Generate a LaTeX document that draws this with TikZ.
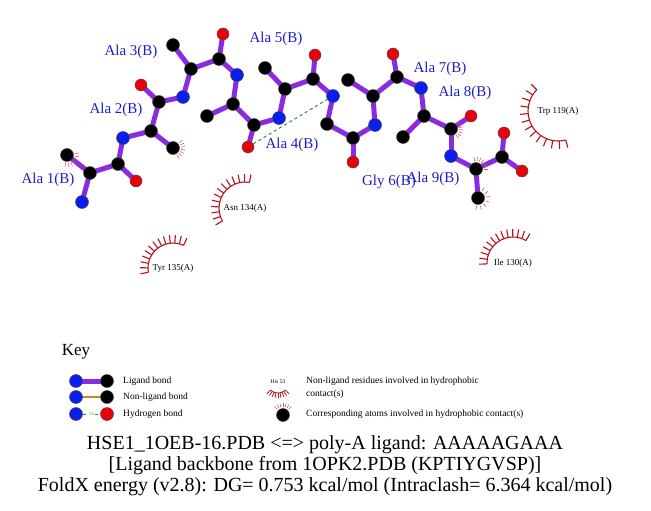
\documentclass[tikz,border=0pt]{standalone}
\usepackage{fontspec}
\setmainfont{Liberation Serif}
\usetikzlibrary{backgrounds}
\definecolor{ligbond}{HTML}{8A2BE2}
\definecolor{nblue}{HTML}{0A1EF0}
\definecolor{ored}{HTML}{E8000A}
\definecolor{labblue}{HTML}{1E1EC8}
\definecolor{hydred}{HTML}{B4141E}
\definecolor{nlbond}{HTML}{CC8A1E}
\definecolor{hgreen}{HTML}{2E8B22}

\begin{document}
\begin{tikzpicture}[x=1pt, y=1pt,
  atom/.style={circle, draw=black!70, line width=0.5pt, inner sep=0pt, minimum size=13pt},
  catom/.style={atom, fill=black},
  natom/.style={atom, fill=nblue},
  oatom/.style={atom, fill=ored, minimum size=12pt},
  bond/.style={ligbond, line width=5pt},
  nlig/.style={nlbond, line width=2.5pt},
  hbond/.style={hgreen, dashed, line width=1pt},
  res/.style={text=labblue, inner sep=0pt, font=\fontsize{15}{15}\selectfont},
  hyd/.style={hydred, line width=1.1pt},
  hydmark/.style={hydred!70, line width=0.6pt},
  contact/.style={inner sep=0pt, font=\fontsize{9}{9}\selectfont},
  keytext/.style={anchor=west, inner sep=0pt, align=left, font=\fontsize{9.5}{13}\selectfont},
  title/.style={inner sep=0pt, font=\fontsize{20}{20}\selectfont}]
  \useasboundingbox (0,0) rectangle (651,-511);

  \node[natom] (n1) at (82,-202) {};
  \node[catom] (ca1) at (90,-173) {};
  \node[catom] (cb1) at (67,-155) {};
  \node[catom] (c1) at (118,-164) {};
  \node[oatom] (o1) at (136,-181) {};
  \node[natom] (n2) at (123,-138) {};
  \node[catom] (ca2) at (151,-131) {};
  \node[catom] (cb2) at (173,-148) {};
  \node[catom] (c2) at (159,-102) {};
  \node[oatom] (o2) at (141,-85) {};
  \node[natom] (n3) at (183,-97) {};
  \node[catom] (ca3) at (191,-69) {};
  \node[catom] (cb3) at (173,-45) {};
  \node[catom] (c3) at (219,-59) {};
  \node[oatom] (o3) at (223,-34) {};
  \node[natom] (n4) at (237,-75) {};
  \node[catom] (ca4) at (233,-104) {};
  \node[catom] (cb4) at (207,-116) {};
  \node[catom] (c4) at (254,-125) {};
  \node[oatom] (o4) at (248,-147) {};
  \node[natom] (n5) at (279,-118) {};
  \node[catom] (ca5) at (285,-89) {};
  \node[catom] (cb5) at (265,-68) {};
  \node[catom] (c5) at (313,-79) {};
  \node[oatom] (o5) at (315,-55) {};
  \node[natom] (n6) at (333,-96) {};
  \node[catom] (ca6) at (327,-124) {};
  \node[catom] (c6) at (353,-138) {};
  \node[oatom] (o6) at (353,-162) {};
  \node[natom] (n7) at (375,-125) {};
  \node[catom] (ca7) at (373,-96) {};
  \node[catom] (cb7) at (348,-80) {};
  \node[catom] (c7) at (397,-77) {};
  \node[oatom] (o7) at (393,-54) {};
  \node[natom] (n8) at (421,-88) {};
  \node[catom] (ca8) at (424,-116) {};
  \node[catom] (cb8) at (403,-137) {};
  \node[catom] (c8) at (451,-129) {};
  \node[oatom] (o8) at (471,-116) {};
  \node[natom] (n9) at (451,-156) {};
  \node[catom] (ca9) at (476,-169) {};
  \node[catom] (cb9) at (478,-198) {};
  \node[catom] (c9) at (502,-157) {};
  \node[oatom] (o9) at (504,-133) {};
  \node[oatom] (oxt) at (522,-171) {};

  \begin{scope}[on background layer]
    \foreach \a/\b in {n1/ca1, ca1/cb1, ca1/c1, c1/o1, c1/n2,
      n2/ca2, ca2/cb2, ca2/c2, c2/o2, c2/n3,
      n3/ca3, ca3/cb3, ca3/c3, c3/o3, c3/n4,
      n4/ca4, ca4/cb4, ca4/c4, c4/o4, c4/n5,
      n5/ca5, ca5/cb5, ca5/c5, c5/o5, c5/n6,
      n6/ca6, ca6/c6, c6/o6, c6/n7,
      n7/ca7, ca7/cb7, ca7/c7, c7/o7, c7/n8,
      n8/ca8, ca8/cb8, ca8/c8, c8/o8, c8/n9,
      n9/ca9, ca9/cb9, ca9/c9, c9/o9, c9/oxt}
      \draw[bond] (\a.center) -- (\b.center);
  \end{scope}
  \draw[hbond] (o4) -- (n6);

  \foreach \at/\s/\e in {cb1/-100/10, cb2/-60/40, c8/-50/40, ca9/0/100, cb9/-100/60}
    \foreach \k in {0,...,6}
      \draw[hydmark] (\at.center) ++({\s+\k*(\e-\s)/6}:8) -- ++({\s+\k*(\e-\s)/6}:4);

  \node[res] (lab1) at (48,-180) {Ala 1(B)};
  \node[res] (lab2) at (116,-110) {Ala 2(B)};
  \node[res] (lab3) at (131,-52) {Ala 3(B)};
  \node[res] (lab4) at (292,-145) {Ala 4(B)};
  \node[res] (lab5) at (276,-39) {Ala 5(B)};
  \node[res] (lab6) at (389,-182) {Gly 6(B)};
  \node[res] (lab7) at (440,-69) {Ala 7(B)};
  \node[res] (lab8) at (465,-93) {Ala 8(B)};
  \node[res] (lab9) at (433,-179) {Ala 9(B)};

  \foreach \nm/\txt/\x/\y/\r/\s/\e in {asn/Asn 134(A)/245/208/26/80/210,
      tyr/Tyr 135(A)/173/268/25/65/190,
      trp/Trp 119(A)/558/111/30/135/285,
      ile/Ile 130(A)/513/263/26/60/182} {
    \node[contact] (\nm) at (\x,-\y) {\txt};
    \draw[hyd] (\nm.center) ++(\s:\r) arc[start angle=\s, end angle=\e, radius=\r];
    \foreach \k in {0,...,12}
      \draw[hyd] (\nm.center) ++({\s+\k*(\e-\s)/12}:\r) -- ++({\s+\k*(\e-\s)/12}:8);
  }

  \node[inner sep=0pt, font=\fontsize{17}{17}\selectfont] (key) at (76,-352) {Key};
  \node[natom] (kn1) at (76,-381) {};
  \node[catom] (kc1) at (107,-381) {};
  \node[natom] (kn2) at (76,-397) {};
  \node[catom] (kc2) at (107,-397) {};
  \node[natom] (kn3) at (76,-414) {};
  \node[oatom, minimum size=13pt] (ko3) at (107,-414) {};
  \begin{scope}[on background layer]
    \draw[bond] (kn1.center) -- (kc1.center);
    \draw[nlig] (kn2.center) -- (kc2.center);
  \end{scope}
  \draw[hbond] (kn3) -- node[fill=white, inner sep=0.5pt, text=hgreen, font=\fontsize{4}{4}\selectfont] {3.0} (ko3);
  \node[keytext] (kt1) at (123,-381) {Ligand bond};
  \node[keytext] (kt2) at (123,-397) {Non-ligand bond};
  \node[keytext] (kt3) at (123,-414) {Hydrogen bond};

  \node[inner sep=0pt, font=\fontsize{5.5}{5.5}\selectfont] (khis) at (278,-382) {His 53};
  \draw[hyd, line width=0.8pt] (khis.center) ++(227:11) arc[start angle=227, end angle=313, radius=11];
  \foreach \k in {0,...,8}
    \draw[hyd, line width=0.8pt] (khis.center) ++({227+\k*86/8}:11) -- ++({227+\k*86/8}:5);
  \node[catom] (katom) at (283,-415) {};
  \foreach \k in {0,...,6}
    \draw[hydmark] (katom.center) ++({45+\k*15}:8) -- ++({45+\k*15}:4);
  \node[keytext] (kt4) at (306,-388) {Non-ligand residues involved in hydrophobic\\contact(s)};
  \node[keytext] (kt5) at (306,-414) {Corresponding atoms involved in hydrophobic contact(s)};

  \node[title] (t1) at (325,-445) {HSE1\_1OEB-16.PDB <=> poly-A ligand: AAAAAGAAA};
  \node[title] (t2) at (325,-466) {[Ligand backbone from 1OPK2.PDB (KPTIYGVSP)]};
  \node[title] (t3) at (325,-487) {FoldX energy (v2.8): DG= 0.753 kcal/mol (Intraclash= 6.364 kcal/mol)};
\end{tikzpicture}
\end{document}
